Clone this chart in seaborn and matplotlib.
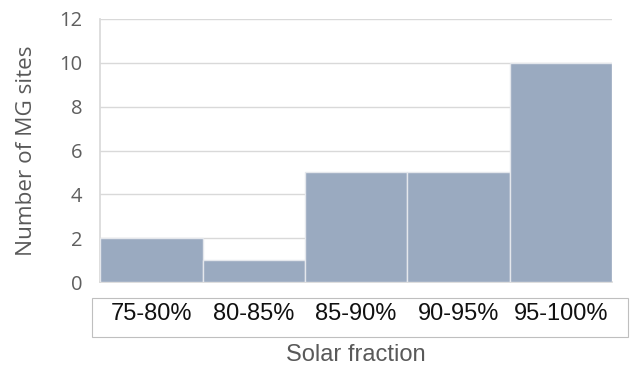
import matplotlib
matplotlib.use("Agg")
import matplotlib.pyplot as plt
from matplotlib.patches import Rectangle
import seaborn as sns
import pandas as pd

# Distribution of mini-grid sites by solar fraction band
categories = ["75-80%", "80-85%", "85-90%", "90-95%", "95-100%"]
site_counts = [2, 1, 5, 5, 10]
y_ticks = [0, 2, 4, 6, 8, 10, 12]

df = pd.DataFrame({"band": categories, "sites": site_counts})

sns.set_theme(style="white")
plt.rcParams["font.family"] = ["Liberation Sans", "DejaVu Sans"]

fig = plt.figure(figsize=(6.38, 3.65), dpi=100)
ax = fig.add_axes([0.157, 0.227, 0.802, 0.721])

sns.barplot(data=df, x="band", y="sites", color="#9aaac0", saturation=1,
            width=1.0, edgecolor="#e4e7ec", linewidth=1.0, ax=ax, zorder=3)

ax.set_ylim(0, 12)
ax.set_xlim(-0.5, len(categories) - 0.5)
ax.set_yticks(y_ticks)
ax.set_yticklabels([str(t) for t in y_ticks], fontsize=14.5, color="#5f5f5f",
                   family=["Open Sans", "DejaVu Sans"])
ax.yaxis.grid(True, color="#d9d9d9", linewidth=1.0, zorder=0)
ax.set_axisbelow(True)
ax.tick_params(axis="y", length=0, pad=13)

# Category labels sit inside a framed strip below the plot area
ax.set_xticks(range(len(categories)))
ax.set_xticklabels(categories, fontsize=17, color="#111111")
ax.tick_params(axis="x", length=0, pad=15)

for side in ("top", "right"):
    ax.spines[side].set_visible(False)
ax.spines["left"].set_color("#d9d9d9")
ax.spines["bottom"].set_color("#d9d9d9")

fig.patches.append(Rectangle((92 / 638, 1 - 337 / 365), (628 - 92) / 638, 39 / 365,
                             transform=fig.transFigure, fill=False,
                             edgecolor="#bfbfbf", linewidth=0.8))

ax.set_xlabel("Solar fraction", fontsize=17, color="#595959", labelpad=14)
ax.set_ylabel("Number of MG sites", fontsize=16.2, color="#595959", labelpad=16,
              family=["Open Sans", "DejaVu Sans"])

fig.savefig("out.png", dpi=100, facecolor="white")
